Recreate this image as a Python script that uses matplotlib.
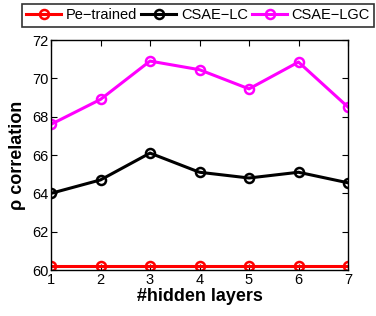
import matplotlib
matplotlib.use("Agg")
import matplotlib.pyplot as plt

layers = [1, 2, 3, 4, 5, 6, 7]
pretrained = [60.2, 60.2, 60.2, 60.2, 60.2, 60.2, 60.2]
csae_lc = [64.0, 64.7, 66.1, 65.1, 64.8, 65.1, 64.55]
csae_lgc = [67.6, 68.9, 70.9, 70.45, 69.45, 70.85, 68.5]

plt.rcParams['font.family'] = ['Liberation Sans', 'DejaVu Sans']
fig = plt.figure(figsize=(3.76, 3.16), dpi=100)
ax = fig.add_axes([51/376, 1-270/316, 297/376, 230/316])

kw = dict(marker='o', markersize=6.5, markerfacecolor='none', markeredgewidth=1.8, linewidth=2.2)
l1, = ax.plot(layers, pretrained, color='red', label='Pe\u2212trained', **kw)
l2, = ax.plot(layers, csae_lc, color='black', label='CSAE\u2212LC', **kw)
l3, = ax.plot(layers, csae_lgc, color='magenta', label='CSAE\u2212LGC', **kw)

ax.set_xlim(1, 7)
ax.set_ylim(60, 72)
ax.set_xticks(layers)
ax.set_yticks([60, 62, 64, 66, 68, 70, 72])
ax.tick_params(direction='in', labelsize=10.5, length=4, width=0.8, top=True, right=True, pad=2)
for s in ax.spines.values():
    s.set_linewidth(1.0)
ax.set_xlabel('#hidden layers', fontsize=13, fontweight='bold', labelpad=1)
ax.set_ylabel('\u03c1 correlation', fontsize=13, fontweight='bold', labelpad=4)

leg = fig.legend(handles=[l1, l2, l3], loc='upper right', bbox_to_anchor=(374/376, 1-4/316),
                 ncol=3, fontsize=10.5, frameon=True, fancybox=False, edgecolor='black',
                 handlelength=2.4, handletextpad=0.3, columnspacing=0.3, borderpad=0.3,
                 borderaxespad=0)
leg.get_frame().set_linewidth(1.2)

fig.savefig('out.png', dpi=100)
